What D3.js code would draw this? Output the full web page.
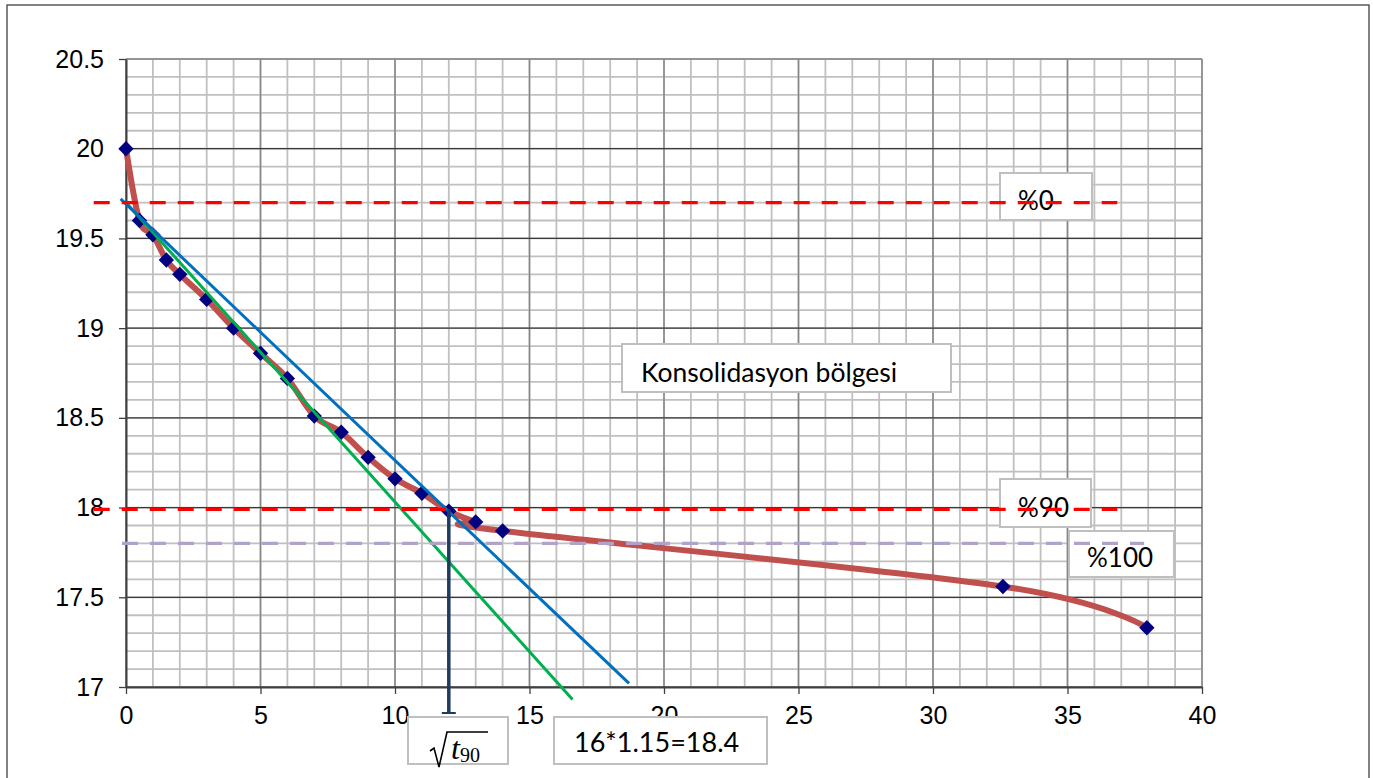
<!DOCTYPE html>
<html>
<head>
<meta charset="utf-8">
<script src="https://cdn.jsdelivr.net/npm/d3@7"></script>
<style>
  html, body { margin: 0; padding: 0; background: #fff; }
  svg { display: block; }
</style>
</head>
<body>
<svg id="chart" width="1373" height="778"></svg>
<script>
// ---- data ----
const sqrtTime = [0, 0.5, 1, 1.5, 2, 3, 4, 5, 6, 7, 8, 9, 10, 11, 12, 13, 14, 32.6, 37.95];
const reading  = [20, 19.6, 19.52, 19.38, 19.3, 19.16, 19.0, 18.86, 18.72, 18.51, 18.42, 18.28, 18.16, 18.08, 17.98, 17.92, 17.87, 17.56, 17.33];
const xTicks = [0, 5, 10, 15, 20, 25, 30, 35, 40];
const yTicks = [17, 17.5, 18, 18.5, 19, 19.5, 20, 20.5];
const yTickLabels = ["17", "17.5", "18", "18.5", "19", "19.5", "20", "20.5"];
// construction lines [x0, y0, x1, y1]
const blueLine  = [-0.2, 19.72, 18.7, 17.02];
const greenLine = [0, 19.7, 16.6, 16.93];
const line0   = [-1.2, 19.7, 36.85, 19.7];
const line90  = [-1.2, 17.99, 36.85, 17.99];
const line100 = [-0.15, 17.8, 37.85, 17.8];
const t90 = [12, 17.99, 16.855];

const svg = d3.select("#chart");
const x = d3.scaleLinear([0, 40], [126, 1202]);
const y = d3.scaleLinear([17, 20.5], [687, 59]);

// outer border
svg.append("rect").attr("x", 7).attr("y", 5).attr("width", 1362).attr("height", 800)
  .attr("fill", "#fff").attr("stroke", "#404040").attr("stroke-width", 1.3);

const g = svg.append("g");
// minor grid
g.selectAll(".mx").data(d3.range(0, 41)).join("line")
  .attr("x1", d => x(d)).attr("x2", d => x(d)).attr("y1", y(17)).attr("y2", y(20.5))
  .attr("stroke", "#c0c0c0").attr("stroke-width", 1.8);
g.selectAll(".my").data(d3.range(0, 36).map(i => 17 + i * 0.1)).join("line")
  .attr("x1", x(0)).attr("x2", x(40)).attr("y1", d => y(d)).attr("y2", d => y(d))
  .attr("stroke", "#c0c0c0").attr("stroke-width", 1.8);
// major grid
g.selectAll(".Mx").data(xTicks).join("line")
  .attr("x1", d => x(d)).attr("x2", d => x(d)).attr("y1", y(17)).attr("y2", y(20.5))
  .attr("stroke", "#868686").attr("stroke-width", 1.5);
g.selectAll(".My").data(yTicks.slice(0, -1)).join("line")
  .attr("x1", x(0)).attr("x2", x(40)).attr("y1", d => y(d)).attr("y2", d => y(d))
  .attr("stroke", "#3a3a3a").attr("stroke-width", 1.2);
g.append("line").attr("x1", x(0)).attr("x2", x(40)).attr("y1", y(20.5)).attr("y2", y(20.5))
  .attr("stroke", "#868686").attr("stroke-width", 1.5);

// axes
const yAxis = svg.append("g").attr("transform", `translate(${x(0)},0)`)
  .call(d3.axisLeft(y).tickValues(yTicks).tickFormat((d, i) => yTickLabels[i]).tickSize(7).tickPadding(15).tickSizeOuter(0));
const xAxis = svg.append("g").attr("transform", `translate(0,${y(17)})`)
  .call(d3.axisBottom(x).tickValues(xTicks).tickSize(7).tickPadding(12).tickSizeOuter(0));
[yAxis, xAxis].forEach(a => {
  a.select(".domain").attr("stroke", "#404040").attr("stroke-width", 2);
  a.selectAll(".tick line").attr("stroke", "#404040").attr("stroke-width", 1.3);
  a.selectAll("text").attr("font-family", "'Liberation Sans', Arial, sans-serif").attr("font-size", 25).attr("fill", "#000");
});

// data series
const pts = sqrtTime.map((v, i) => [v, reading[i]]);
svg.append("path").datum(pts)
  .attr("d", d3.line().x(d => x(d[0])).y(d => y(d[1])).curve(d3.curveCatmullRom.alpha(0)))
  .attr("fill", "none").attr("stroke", "#C0504D").attr("stroke-width", 6).attr("stroke-linejoin", "round");
svg.selectAll(".mk").data(pts).join("path")
  .attr("transform", d => `translate(${x(d[0])},${y(d[1])}) rotate(45)`)
  .attr("d", d3.symbol(d3.symbolSquare, 118)())
  .attr("fill", "#000080");

// construction lines
function seg(a, color, w, dash) {
  const l = svg.append("line").attr("x1", x(a[0])).attr("y1", y(a[1])).attr("x2", x(a[2])).attr("y2", y(a[3]))
    .attr("stroke", color).attr("stroke-width", w);
  if (dash) l.attr("stroke-dasharray", dash);
  return l;
}
seg(greenLine, "#00B050", 3);
seg(blueLine, "#0070C0", 3);

// vertical t90 line with cap
svg.append("line").attr("x1", x(t90[0])).attr("x2", x(t90[0])).attr("y1", y(t90[1])).attr("y2", y(t90[2]))
  .attr("stroke", "#1F3A5F").attr("stroke-width", 3.5);
svg.append("line").attr("x1", x(t90[0]) - 7).attr("x2", x(t90[0]) + 7).attr("y1", y(t90[2])).attr("y2", y(t90[2]))
  .attr("stroke", "#1F3A5F").attr("stroke-width", 2);

// text boxes
const font = "Lato, 'Open Sans', sans-serif";
function box(bx, by, bw, bh) {
  svg.append("rect").attr("x", bx).attr("y", by).attr("width", bw).attr("height", bh)
    .attr("fill", "#fff").attr("stroke", "#BFBFBF").attr("stroke-width", 2);
}
function label(tx, ty, txt, size) {
  svg.append("text").attr("x", tx).attr("y", ty).text(txt)
    .attr("font-family", font).attr("font-size", size || 26).attr("fill", "#000");
}
box(1000, 173, 92, 47);  label(1018, 210, "%0");
box(1000, 479, 91, 48);  label(1018, 517, "%90");
box(1069, 531, 105, 46); label(1087, 567, "%100");
box(622, 344, 329, 48);  label(641, 382, "Konsolidasyon bölgesi", 26.5);
box(408, 717, 100, 47);
box(554, 717, 213, 47);  label(574, 752, "16*1.15=18.4", 27);

// sqrt(t90)
svg.append("path").attr("d", "M430,751 L434,748 L439,767 L447,732 L488,732")
  .attr("fill", "none").attr("stroke", "#000").attr("stroke-width", 1.6);
const tt = svg.append("text").attr("x", 451).attr("y", 759)
  .attr("font-family", "'Liberation Serif', 'DejaVu Serif', serif").attr("fill", "#000");
tt.append("tspan").attr("font-style", "italic").attr("font-size", 32).text("t");
tt.append("tspan").attr("font-size", 20).attr("dy", 3).text("90");

// dashed reference lines on top
seg(line0, "#FF0000", 3.2, "16 12");
seg(line90, "#FF0000", 3.2, "16 12");
seg(line100, "#B3A2C7", 3.2, "16 12");
</script>
</body>
</html>
